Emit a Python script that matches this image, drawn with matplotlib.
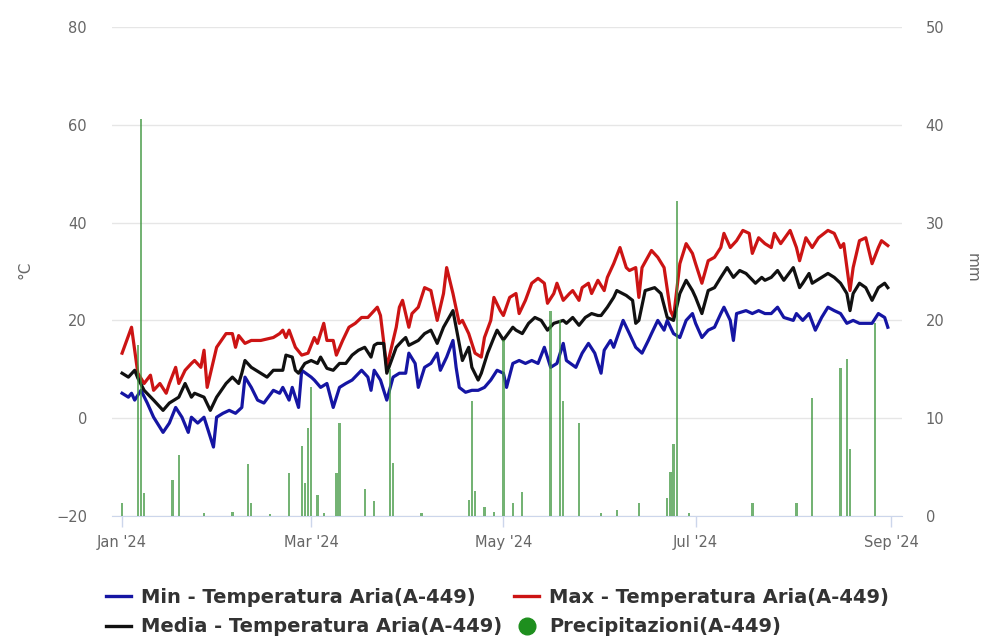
import numpy as np
import matplotlib
matplotlib.use('Agg')
import matplotlib.pyplot as plt
import matplotlib.dates as mdates
from matplotlib.lines import Line2D

# day offsets from 1 Jan 2024
max_days = [0, 3, 5, 7, 9, 10, 12, 14, 15, 17, 18, 20, 22, 23, 25, 26, 27, 30, 33, 35, 36, 37,
            39, 41, 44, 48, 50, 51, 52, 53, 55, 57, 59, 61, 62, 64, 65, 67, 68, 70, 72, 74, 76, 78,
            80, 81, 82, 84, 87, 88, 89, 91, 92, 94, 96, 98, 100, 102, 103, 105, 107, 108, 110, 112,
            114, 115, 117, 118, 120, 121, 123, 125, 126, 128, 130, 132, 134, 135, 137, 138, 140,
            142, 143, 145, 146, 148, 149, 151, 153, 154, 156, 158, 160, 161, 163, 164, 165, 168,
            170, 172, 174, 175, 177, 179, 181, 182, 184, 186, 188, 190, 191, 193, 195, 197, 199,
            200, 202, 204, 206, 207, 209, 212, 214, 215, 217, 219, 221, 224, 226, 228, 229, 231,
            232, 234, 236, 238, 240, 241, 243]
max_vals = [13.3, 18.6, 9.2, 7.1, 8.8, 5.7, 7.1, 5.1, 7.1, 10.4, 7.1, 9.8, 11.2, 11.8, 10.4, 13.9,
            6.3, 14.5, 17.3, 17.3, 14.5, 16.9,
            15.3, 15.9, 15.9, 16.5, 17.3, 18.0, 16.5, 18.0, 14.5, 12.9, 13.3, 16.5, 15.3, 19.4,
            15.9, 15.9, 12.9, 15.9, 18.6, 19.4, 20.6, 20.6,
            22.0, 22.7, 21.0, 10.4, 18.6, 22.7, 24.1, 18.6, 21.4, 22.7, 26.7, 26.1, 20.0, 25.5,
            30.8, 25.5, 19.4, 20.0, 17.3, 13.3,
            12.5, 16.5, 20.0, 24.7, 22.0, 21.0, 24.7, 25.5, 21.4, 24.1, 27.6, 28.6, 27.6, 23.5,
            25.5, 27.6, 24.1,
            25.5, 26.1, 24.1, 26.7, 27.6, 25.5, 28.2, 26.1, 28.8, 31.6, 34.9, 30.8, 30.2, 30.8,
            24.7, 30.8, 34.3,
            32.9, 30.8, 22.0, 20.6, 31.6, 35.7, 33.7, 31.6, 27.6, 32.2, 32.9, 34.9, 37.8, 34.9,
            36.3, 38.4, 37.8,
            33.7, 36.9, 35.7, 34.9, 37.8, 35.7, 38.4, 34.9, 32.2, 36.9, 34.9, 36.9, 38.4, 37.8,
            34.9, 35.7, 26.1,
            30.8, 36.3, 36.9, 31.6, 34.9, 36.3, 35.3]

mean_days = [0, 2, 4, 5, 7, 10, 13, 15, 18, 20, 22, 23, 26, 28, 30, 33, 35, 37, 38,
             39, 41, 44, 46, 48, 51, 52, 54, 55, 56, 58, 60, 62, 63, 65, 67, 69, 71, 73, 75, 77,
             79, 80, 81, 83, 84, 87, 89, 90, 91, 94, 96, 98, 100, 102, 105, 106, 108, 110, 111,
             113, 114, 116, 118, 119, 121, 124, 125, 127, 129, 131, 133, 135, 137, 140, 141, 143,
             145, 147, 149, 151, 152, 154, 156, 157, 160, 162, 163, 164, 166, 169, 171, 173, 175,
             177, 179, 181, 182, 184, 186, 188, 190, 192, 194, 196, 198, 201, 203, 204, 206, 208,
             210, 213, 215, 216, 218, 219, 222, 224, 226, 228, 230, 231, 232, 234, 236, 238, 240,
             242, 243]
mean_vals = [9.2, 8.4, 9.8, 8.2, 5.7, 3.7, 1.6, 3.1, 4.3, 7.1, 4.3, 5.1, 4.3, 1.6, 4.3, 7.1,
             8.4, 7.1, 9.2,
             11.8, 10.4, 9.2, 8.4, 9.8, 9.8, 12.9, 12.5, 9.8, 9.2, 11.2, 11.8, 11.2, 12.5, 10.2,
             9.8, 11.2, 11.2, 12.9, 13.9, 14.5,
             12.5, 14.9, 15.3, 15.3, 9.2, 14.5, 15.9, 16.5, 14.9, 15.9, 17.3, 18.0, 15.3, 18.6,
             22.0, 18.6, 11.8, 14.5, 10.4,
             7.8, 9.2, 13.3, 16.5, 18.0, 16.0, 18.6, 18.0, 17.3, 19.4, 20.6, 20.0, 18.0, 19.4,
             20.0, 19.4, 20.6,
             19.0, 20.6, 21.4, 21.0, 21.0, 22.7, 24.7, 26.1, 25.1, 24.1, 19.4, 20.0, 26.1, 26.7,
             25.5, 20.6, 20.0,
             25.5, 28.2, 26.1, 24.7, 21.4, 26.1, 26.7, 28.8, 30.8, 28.8, 30.2, 29.6, 27.6, 28.8,
             28.2, 28.8, 30.2,
             28.2, 30.8, 26.7, 27.6, 29.6, 27.6, 28.8, 29.6, 28.8, 27.6, 25.5, 22.0, 25.5, 27.6,
             26.7, 24.1, 26.7,
             27.6, 26.7]

min_days = [0, 2, 3, 4, 6, 8, 10, 13, 15, 17, 19, 21, 22, 24, 26, 29, 30, 32, 34, 36, 38,
            39, 41, 43, 45, 48, 50, 51, 53, 54, 56, 57, 60, 61, 63, 65, 67, 69, 71, 73, 76, 78,
            79, 80, 82, 84, 86, 88, 90, 91, 93, 94, 96, 98, 100, 101, 103, 105, 106, 107, 109,
            111, 113, 115, 117, 119, 121, 122, 124, 126, 128, 130, 132, 134, 136, 138, 140, 141,
            144, 146, 148, 150, 152, 153, 155, 156, 159, 161, 163, 165, 167, 168, 170, 172, 173,
            175, 177, 179, 181, 182, 184, 186, 188, 190, 191, 193, 194, 195, 198, 200, 202, 204,
            206, 208, 210, 213, 214, 216, 218, 220, 222, 224, 226, 228, 230, 232, 234, 236, 238,
            240, 242, 243]
min_vals = [5.1, 4.3, 5.1, 3.7, 5.7, 3.1, 0.2, -2.9, -1.0, 2.2, 0.2, -2.9, 0.2, -1.0, 0.2,
            -5.9, 0.2, 1.0, 1.6, 1.0, 2.2,
            8.4, 6.3, 3.7, 3.1, 5.7, 5.1, 6.3, 3.7, 6.3, 2.2, 9.8, 8.4, 7.8, 6.3, 7.1, 2.2, 6.3,
            7.1, 7.8, 9.8, 8.4,
            5.7, 9.8, 7.8, 3.7, 8.4, 9.2, 9.2, 13.3, 11.2, 6.3, 10.4, 11.2, 13.3, 9.8, 12.5,
            15.9, 10.4, 6.3, 5.3,
            5.7, 5.7, 6.3, 7.8, 9.8, 9.2, 6.3, 11.2, 11.8, 11.2, 11.8, 11.2, 14.5, 10.4, 11.2,
            15.3, 11.8,
            10.4, 13.3, 15.3, 13.3, 9.2, 13.9, 15.9, 14.5, 20.0, 17.3, 14.5, 13.3, 15.9, 17.3,
            20.0, 18.0, 20.0,
            17.3, 16.5, 20.0, 21.4, 19.4, 16.5, 18.0, 18.6, 21.4, 22.7, 20.0, 15.9, 21.4, 22.0,
            21.4, 22.0, 21.4,
            21.4, 22.7, 20.6, 20.0, 21.4, 20.0, 21.4, 18.0, 20.6, 22.7, 22.0, 21.4, 19.4, 20.0,
            19.4, 19.4, 19.4,
            21.4, 20.6, 18.6]

prec_days = [0, 5, 6, 7, 16, 18, 26, 35, 40, 41, 47, 53, 57, 58, 59, 60, 62, 64, 68, 69, 77,
             80, 85, 86, 95, 110, 111, 112, 115, 118, 121, 124, 127, 136, 139, 140, 145, 152,
             157, 164, 173, 174, 175, 176, 180, 200, 214, 219, 228, 230, 231, 239]
prec_vals = [1.3, 17.5, 40.6, 2.4, 3.7, 6.2, 0.3, 0.4, 5.3, 1.3, 0.2, 4.4, 7.2, 3.4, 9.0, 13.2,
             2.1, 0.3, 4.4, 9.5, 2.8, 1.5, 15.0, 5.4, 0.3, 1.6, 11.8, 2.6, 0.9, 0.4, 18.0, 1.3,
             2.5, 21.0, 20.0, 11.8, 9.5, 0.3, 0.6, 1.3, 1.8, 4.5, 7.4, 32.2, 0.3, 1.3, 1.3, 12.1,
             15.1, 16.1, 6.9, 19.7]

tick_dates = ['2024-01-01', '2024-03-01', '2024-05-01', '2024-07-01', '2024-09-01']
tick_labels = ["Jan '24", "Mar '24", "May '24", "Jul '24", "Sep '24"]
labels = ['Min - Temperatura Aria(A-449)', 'Max - Temperatura Aria(A-449)',
          'Media - Temperatura Aria(A-449)', 'Precipitazioni(A-449)']

base = np.datetime64('2024-01-01')


def to_dates(days):
    return base + np.array(days, dtype='timedelta64[D]')


plt.rcParams['font.family'] = ['DejaVu Sans']

fig = plt.figure(figsize=(9.95, 6.4), dpi=100)
ax = fig.add_axes([112 / 995, 1 - 516 / 640, (902 - 112) / 995, (516 - 27) / 640])
ax2 = ax.twinx()

grey = '#666666'
c_min, c_max, c_mean, c_prec = '#1515a3', '#cc1414', '#111111', '#3f963f'

ax.plot(to_dates(min_days), min_vals, color=c_min, lw=2.3, zorder=3)
ax.plot(to_dates(max_days), max_vals, color=c_max, lw=2.3, zorder=3)
ax.plot(to_dates(mean_days), mean_vals, color=c_mean, lw=2.3, zorder=3)
ax2.bar(to_dates(prec_days), prec_vals, width=0.75, color=c_prec, alpha=0.72, zorder=4)

b0 = mdates.date2num(base)
ax.set_xlim(b0 - 3.2, b0 + 247.5)
ax.set_ylim(-20, 80)
ax.set_yticks([-20, 0, 20, 40, 60, 80])
ax2.set_ylim(0, 50)
ax2.set_yticks([0, 10, 20, 30, 40, 50])

ax.set_xticks([mdates.date2num(np.datetime64(d)) for d in tick_dates])
ax.set_xticklabels(tick_labels)

ax.grid(axis='y', color='#e6e6e6', lw=1)
ax.set_axisbelow(True)
for a in (ax, ax2):
    for s in ('top', 'left', 'right'):
        a.spines[s].set_visible(False)
    a.spines['bottom'].set_color('#ccd6eb')
ax2.spines['bottom'].set_visible(False)

ax.tick_params(axis='x', colors='#ccd6eb', length=8, width=1, pad=6, labelcolor=grey,
               labelsize=10.5)
ax.tick_params(axis='y', length=0, pad=18, labelcolor=grey, labelsize=10.5)
ax2.tick_params(axis='y', length=0, pad=17, labelcolor=grey, labelsize=10.5)

fig.text(25 / 995, 1 - 270 / 640, '°C', rotation=90, ha='center', va='center',
         color=grey, fontsize=11)
fig.text(972 / 995, 1 - 268 / 640, 'mm', rotation=270, ha='center', va='center',
         color=grey, fontsize=11)

handles = [Line2D([], [], color=c_min, lw=2.4),
           Line2D([], [], color=c_mean, lw=2.4),
           Line2D([], [], color=c_max, lw=2.4),
           Line2D([], [], color='#1e8f1e', marker='o', ls='none', markersize=12)]
leg_labels = [labels[0], labels[2], labels[1], labels[3]]
fig.legend(handles, leg_labels, loc='center', bbox_to_anchor=(0.5, 1 - 612 / 640), ncol=2,
           frameon=False, prop={'weight': 'bold', 'size': 14}, labelcolor='#333333',
           handlelength=1.3, handletextpad=0.5, columnspacing=0.6, labelspacing=0.55,
           borderpad=0.2)

fig.savefig('out.png', dpi=100)
